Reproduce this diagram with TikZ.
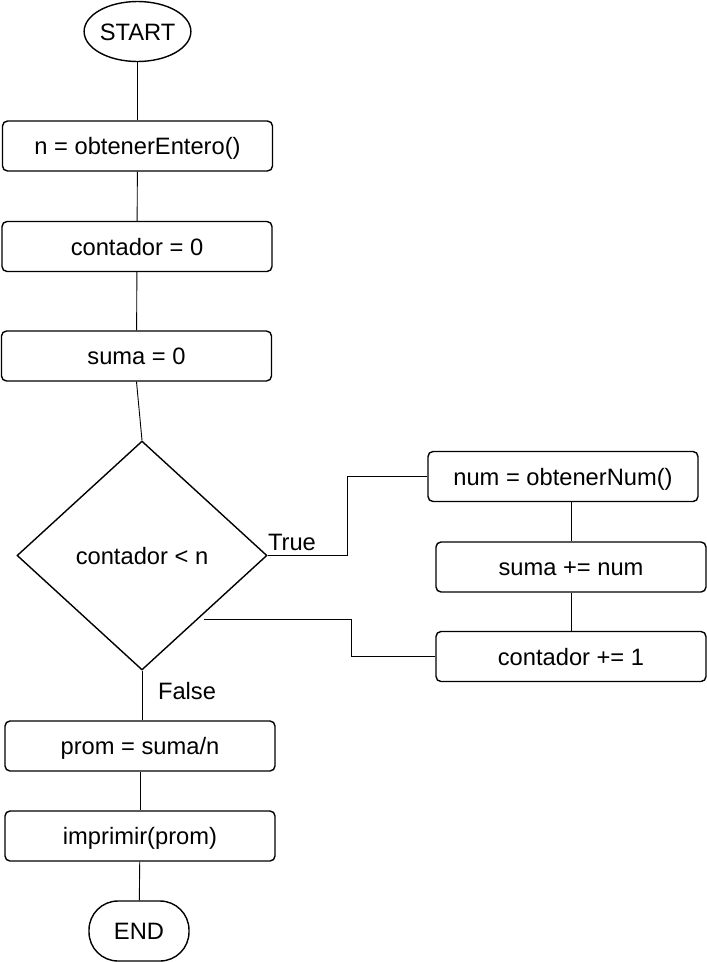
\documentclass[tikz,border=0pt]{standalone}
\usepackage{fontspec}
\setmainfont{Liberation Sans}
\usetikzlibrary{shapes.geometric}
\begin{document}
\begin{tikzpicture}[x=1pt,y=-1pt,
  every node/.style={font=\fontsize{23.7}{28}\selectfont, text height=17.5pt, text depth=0pt},
  box/.style={draw, line width=1.4pt, rectangle, rounded corners=5pt, minimum width=270pt, minimum height=50pt, inner sep=0pt},
  term/.style={draw, line width=1.4pt, minimum width=100pt, minimum height=60pt, inner sep=0pt},
  conn/.style={draw, line width=0.9pt},
  lbl/.style={inner sep=0pt}]
\useasboundingbox (0,0) rectangle (707,962);
\node[term, ellipse] (start) at (137.5,31.5) {START};
\node[box] (b1) at (137.5,146) {n = obtenerEntero()};
\node[box] (b2) at (137,246.5) {contador = 0};
\node[box] (b3) at (136.5,356) {suma = 0};
\node[draw, diamond, line width=1.4pt, minimum width=250pt, minimum height=229pt, inner sep=0pt] (dia) at (142,555.5) {contador < n};
\node[box] (num) at (563,476.5) {num = obtenerNum()};
\node[box] (sn) at (571,567) {suma += num};
\node[box] (cont) at (571,656.5) {contador += 1};
\node[box] (prom) at (140,746) {prom = suma/n};
\node[box] (impr) at (140,836) {imprimir(prom)};
\node[term, rectangle, rounded corners=29pt] (end) at (139,931) {END};
\coordinate (ret) at (204,619);
\draw[conn] (start) -- (b1);
\draw[conn] (b1) -- (b2);
\draw[conn] (b2) -- (b3);
\draw[conn] (b3.south) -- (dia.north);
\draw[conn] (dia.east) -- ++(80,0) |- (num.west);
\draw[conn] (sn.north) -- (sn.north |- num.south);
\draw[conn] (sn) -- (cont);
\draw[conn] (cont.west) -- ++(-84,0) |- (ret);
\draw[conn] (dia.south) -- (prom.north -| dia.south);
\draw[conn] (prom) -- (impr);
\draw[conn] (impr) -- (end);
\node[lbl] (tl) at (292,542) {True};
\node[lbl] (fl) at (187,691) {False};
\end{tikzpicture}
\end{document}
